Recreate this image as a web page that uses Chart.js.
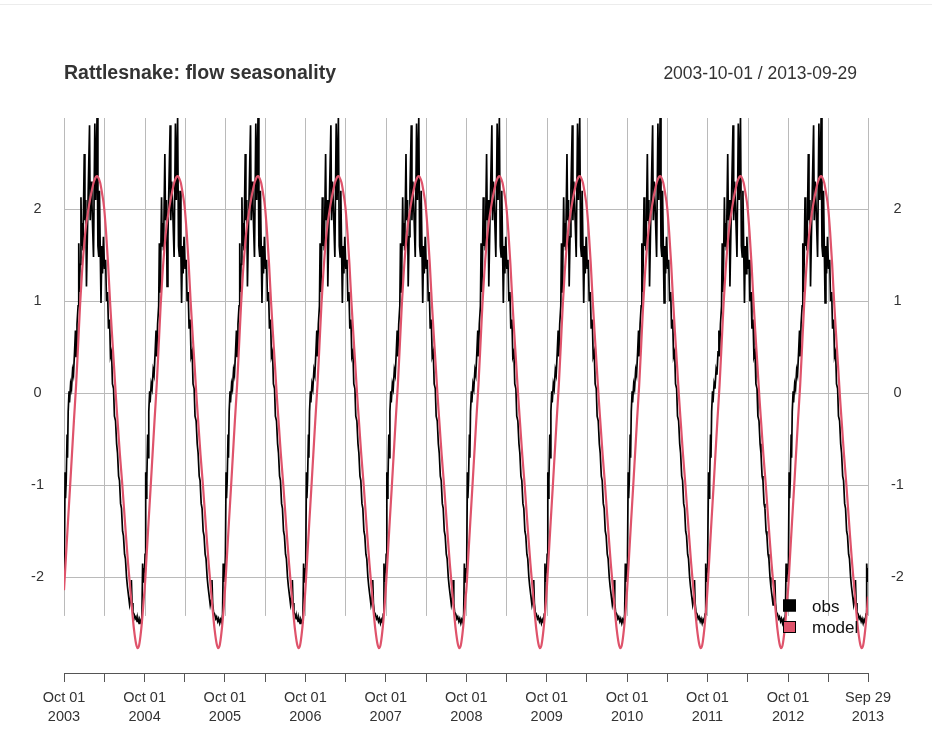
<!DOCTYPE html>
<html>
<head>
<meta charset="utf-8">
<title>Rattlesnake: flow seasonality</title>
<script src="https://cdn.jsdelivr.net/npm/chart.js@4/dist/chart.umd.min.js"></script>
<style>
    body { margin: 0; background: #fff; }
    #wrap { position: relative; width: 932px; height: 736px; }
    #topline { position: absolute; left: 0; right: 0; top: 4px; border-top: 1px solid #ececec; }
    #chart { position: absolute; left: 0; top: 0; }
</style>
</head>
<body>
<div id="wrap">
    <div id="topline"></div>
    <canvas id="chart" width="932" height="736"></canvas>
</div>
<script>
// Seasonal component, one water year (days after Oct 01)
const obsDay = [0, 2, 5, 7, 10, 14, 16, 19, 23, 25, 30, 34, 39, 43, 48, 52, 55, 59, 64, 67,
    70, 73, 77, 80, 83, 86, 92, 95, 99, 102, 106, 110, 116, 119, 123, 127, 134, 140, 144, 150,
    154, 158, 161, 165, 168, 172, 175, 179, 184, 189, 193, 198, 202, 207, 211, 216, 220, 225, 229, 234,
    239, 243, 248, 252, 257, 261, 266, 270, 275, 279, 284, 288, 293, 298, 302, 306, 309, 313, 318, 323,
    327, 332, 336, 341, 345, 350, 354, 357, 360, 363];
const obsSeason = [-1.95, -1.75, -0.86, -1.14, -0.95, -0.45, -0.70, -0.20, 0.02, -0.10,
    0.10, 0.05, 0.25, 0.20, 0.45, 0.68, 0.40, 0.75, 0.95, 1.63,
    1.10, 1.40, 2.13, 1.60, 1.85, 1.55, 2.60, 1.88, 2.10, 1.16,
    1.70, 2.20, 2.91, 1.88, 2.30, 2.05, 1.48, 2.93, 2.10, 2.99,
    1.60, 1.48, 2.20, 1.50, 0.98, 1.60, 1.30, 1.70, 1.35, 1.45,
    1.00, 1.10, 0.70, 0.80, 0.40, 0.45, 0.10, 0.05, -0.25, -0.30,
    -0.55, -0.65, -0.90, -0.95, -1.20, -1.25, -1.50, -1.55, -1.75, -1.80,
    -2.00, -2.10, -2.20, -2.30, -2.25, -2.03, -2.28, -2.38, -2.40, -2.45,
    -2.43, -2.48, -2.45, -2.50, -2.46, -2.49, -2.40, -1.85, -2.05, -1.90];

// Fitted seasonal curve, one water year
const modelDay = [0, 9, 18, 27, 36, 45, 55, 64, 73, 82, 91, 100, 109, 118, 127, 136, 145, 150, 154, 164,
    173, 182, 191, 200, 209, 218, 227, 236, 245, 254, 264, 273, 282, 291, 300, 309, 318, 327, 334, 341,
    350, 359, 363];
const modelSeason = [-2.14, -1.77, -1.40, -1.04, -0.67, -0.30, 0.09, 0.52, 0.96, 1.32,
    1.60, 1.82, 1.97, 2.10, 2.21, 2.30, 2.35, 2.36, 2.35, 2.29,
    2.17, 2.02, 1.75, 1.41, 1.00, 0.64, 0.30, -0.05, -0.36, -0.67,
    -0.97, -1.27, -1.57, -1.85, -2.10, -2.35, -2.57, -2.72, -2.77, -2.74,
    -2.58, -2.34, -2.21];

const waterYears = [2003, 2004, 2005, 2006, 2007, 2008, 2009, 2010, 2011, 2012];
const seriesStart = '2003-10-01';
const seriesEnd = '2013-09-29';

const yTicks = [-2, -1, 0, 1, 2];
const xTickDates = ['2003-10-01', '2004-04-01', '2004-10-01', '2005-04-01', '2005-10-01',
    '2006-04-01', '2006-10-01', '2007-04-01', '2007-10-01', '2008-04-01', '2008-10-01',
    '2009-04-01', '2009-10-01', '2010-04-01', '2010-10-01', '2011-04-01', '2011-10-01',
    '2012-04-01', '2012-10-01', '2013-04-01', '2013-09-29'];
const xTickLabels = [['Oct 01', '2003'], '', ['Oct 01', '2004'], '', ['Oct 01', '2005'],
    '', ['Oct 01', '2006'], '', ['Oct 01', '2007'], '', ['Oct 01', '2008'],
    '', ['Oct 01', '2009'], '', ['Oct 01', '2010'], '', ['Oct 01', '2011'],
    '', ['Oct 01', '2012'], '', ['Sep 29', '2013']];

const chartTitle = 'Rattlesnake: flow seasonality';
const rangeText = seriesStart + ' / ' + seriesEnd;

const DAY = 86400000;
const startMs = Date.parse(seriesStart);
const endMs = Date.parse(seriesEnd);

// the seasonal component repeats every water year
function buildSeries(days, values) {
    const pts = [];
    waterYears.forEach(yr => {
        const t0 = Date.UTC(yr, 9, 1);
        days.forEach((d, i) => {
            const t = t0 + d * DAY;
            if (t <= endMs) pts.push({ x: t, y: values[i] });
        });
    });
    return pts;
}

const obsPoints = buildSeries(obsDay, obsSeason);
const modelPoints = buildSeries(modelDay, modelSeason);

const GRID = '#bababa';
const AXIS = '#555555';
const TEXT = '#333333';
const FONT = '"Liberation Sans", Arial, Helvetica, sans-serif';

Chart.defaults.font.family = FONT;
Chart.defaults.color = TEXT;

// vertical grid only spans the range of the observed series
const vGridPlugin = {
    id: 'vGrid',
    beforeDatasetsDraw(chart) {
        const { ctx, scales: { x, y } } = chart;
        const top = y.getPixelForValue(Math.max(...obsSeason));
        const bottom = y.getPixelForValue(-2.42);
        ctx.save();
        ctx.strokeStyle = GRID;
        ctx.lineWidth = 1;
        xTickDates.forEach(d => {
            const px = Math.round(x.getPixelForValue(Date.parse(d))) + 0.5;
            ctx.beginPath();
            ctx.moveTo(px, top);
            ctx.lineTo(px, bottom);
            ctx.stroke();
        });
        ctx.restore();
    }
};

// title, date range and the small legend in the lower right
const annotatePlugin = {
    id: 'annotate',
    afterDraw(chart) {
        const ctx = chart.ctx;
        ctx.save();
        ctx.fillStyle = TEXT;
        ctx.textBaseline = 'alphabetic';
        ctx.font = 'bold 19.5px ' + FONT;
        ctx.textAlign = 'left';
        ctx.fillText(chartTitle, 64, 79);
        ctx.font = '17.5px ' + FONT;
        ctx.textAlign = 'right';
        ctx.fillText(rangeText, 857, 79);

        ctx.font = '17px ' + FONT;
        ctx.textAlign = 'left';
        chart.data.datasets.forEach((ds, i) => {
            const top = 599.5 + i * 21.5;
            ctx.fillStyle = ds.borderColor;
            ctx.fillRect(783, top, 13, 12);
            ctx.strokeStyle = '#000';
            ctx.lineWidth = 1;
            ctx.strokeRect(783.5, top + 0.5, 12, 11);
            ctx.fillStyle = '#111';
            ctx.fillText(ds.label, 812, top + 12);
        });
        ctx.restore();
    }
};

const yTickOpts = (padding) => ({
    padding: padding,
    crossAlign: 'center',
    font: { size: 14.5 },
    color: TEXT
});

new Chart(document.getElementById('chart'), {
    type: 'line',
    data: {
        datasets: [
            {
                label: 'obs',
                data: obsPoints,
                borderColor: '#000000',
                borderWidth: 1.7,
                pointRadius: 0,
                tension: 0,
                order: 2
            },
            {
                label: 'model',
                data: modelPoints,
                borderColor: '#DF536B',
                borderWidth: 2.2,
                pointRadius: 0,
                cubicInterpolationMode: 'monotone',
                order: 1
            }
        ]
    },
    options: {
        responsive: false,
        animation: false,
        devicePixelRatio: 1,
        layout: { padding: { top: 118, left: 0, right: 0, bottom: 0 } },
        plugins: {
            legend: { display: false },
            title: { display: false },
            tooltip: { enabled: false }
        },
        scales: {
            x: {
                type: 'linear',
                min: startMs,
                max: endMs,
                afterBuildTicks: scale => {
                    scale.ticks = xTickDates.map(d => ({ value: Date.parse(d) }));
                },
                afterFit: scale => { scale.height = 63; },
                ticks: {
                    autoSkip: false,
                    maxRotation: 0,
                    padding: 6,
                    font: { size: 14.5, lineHeight: 1.32 },
                    color: TEXT,
                    callback: (value, index) => xTickLabels[index]
                },
                grid: {
                    drawOnChartArea: false,
                    drawTicks: true,
                    tickLength: 9,
                    color: AXIS
                },
                border: { display: true, color: AXIS, width: 1 }
            },
            y: {
                type: 'linear',
                position: 'left',
                min: -3.04,
                max: 2.99,
                afterBuildTicks: scale => {
                    scale.ticks = yTicks.map(v => ({ value: v }));
                },
                afterFit: scale => { scale.width = 64; },
                ticks: yTickOpts(20),
                grid: { color: GRID, drawTicks: false, lineWidth: 1 },
                border: { display: false }
            },
            y2: {
                type: 'linear',
                position: 'right',
                display: true,
                min: -3.04,
                max: 2.99,
                afterBuildTicks: scale => {
                    scale.ticks = yTicks.map(v => ({ value: v }));
                },
                afterFit: scale => { scale.width = 64; },
                ticks: yTickOpts(23),
                grid: { display: false, drawTicks: false },
                border: { display: false }
            }
        }
    },
    plugins: [vGridPlugin, annotatePlugin]
});
</script>
</body>
</html>
